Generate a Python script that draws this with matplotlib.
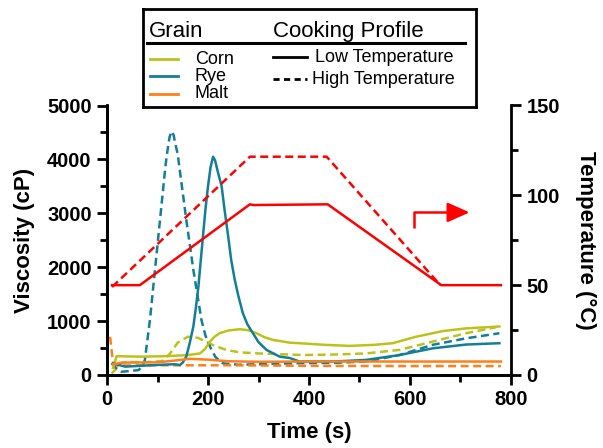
import matplotlib
matplotlib.use("Agg")
import matplotlib.pyplot as plt
from matplotlib.ticker import MultipleLocator

plt.rcParams["font.family"] = ["Liberation Sans", "DejaVu Sans"]

# cooking profiles (temperature, right axis)
low_temp_t = [10, 65, 283, 290, 437, 662, 780]
low_temp = [50, 50, 95, 94.6, 95, 50, 50]
high_temp_t = [10, 283, 435, 660]
high_temp = [49, 121.5, 121.5, 50]

# viscosity, low temperature profile (solid)
corn_low_t = [12, 16, 19, 40, 65, 120, 160, 184, 194, 204, 213, 223, 240, 263, 280, 296, 312,
              329, 362, 381, 430, 480, 530, 566, 612, 665, 711, 777]
corn_low = [130, 250, 350, 345, 340, 350, 370, 400, 480, 620, 710, 775, 825, 850, 830, 775, 700,
            650, 600, 590, 560, 540, 560, 590, 710, 815, 865, 900]
rye_low_t = [12, 36, 95, 134, 144, 150, 157, 164, 171, 176, 181, 185, 190, 195, 200, 205, 210,
             214, 220, 227, 233, 240, 246, 253, 260, 269, 278, 289, 300, 316, 342, 362, 381,
             450, 513, 579, 645, 711, 777]
rye_low = [215, 155, 185, 200, 185, 230, 340, 600, 900, 1250, 1640, 2060, 2570, 3080, 3500,
           3850, 4050, 3980, 3750, 3500, 3050, 2570, 2130, 1765, 1470, 1147, 940, 775, 610,
           465, 340, 315, 250, 250, 280, 370, 495, 565, 590]
malt_low_t = [12, 30, 100, 131, 164, 200, 240, 300, 400, 600, 780]
malt_low = [200, 230, 235, 265, 300, 285, 255, 245, 250, 250, 250]

# viscosity, high temperature profile (dashed)
corn_high_t = [9, 16, 22, 40, 80, 110, 125, 140, 160, 180, 210, 236, 263, 300, 388, 450,
               513, 579, 645, 711, 770]
corn_high = [30, 90, 215, 240, 240, 260, 400, 600, 710, 690, 555, 465, 420, 400, 370, 380,
             400, 465, 620, 775, 885]
rye_high_t = [9, 20, 29, 62, 70, 75, 85, 95, 105, 115, 118, 122, 124, 128, 132, 135, 140, 144,
              157, 171, 187, 195, 204, 215, 230, 260, 381, 450, 513, 579, 645, 711, 777]
rye_high = [220, 110, 60, 90, 150, 280, 1020, 1950, 2880, 3810, 4050, 4300, 4420, 4520, 4450,
            4300, 4100, 3810, 2880, 1950, 1020, 730, 525, 330, 215, 190, 220, 225, 250, 370,
            560, 680, 775]
malt_high_t = [6, 9, 12, 20, 100, 250, 400, 600, 780]
malt_high = [710, 465, 215, 175, 180, 180, 170, 165, 165]

grains = ["Corn", "Rye", "Malt"]
grain_colors = ["#bcc21a", "#127e98", "#ff7f1a"]
red = "#ff0000"


def style_axis(ax):
    ax.tick_params(width=2, length=7, labelsize=14.5, pad=4)
    ax.tick_params(which="minor", width=2, length=5)
    for lab in ax.get_xticklabels() + ax.get_yticklabels():
        lab.set_fontweight("bold")


def draw_legend(fig):
    # legend box drawn in pixel-like units (x 0..333, y 0..99 from top)
    lg = fig.add_axes([143 / 603, 1 - 107 / 448, 333 / 603, 98 / 448], zorder=5)
    lg.set_xlim(0, 333)
    lg.set_ylim(98, 0)
    lg.set_xticks([])
    lg.set_yticks([])
    for s in lg.spines.values():
        s.set_linewidth(2)

    lg.text(6, 28, "Grain", fontsize=16, va="baseline")
    lg.text(130, 28, "Cooking Profile", fontsize=16, va="baseline")
    lg.plot([4, 322], [34, 34], color="black", lw=2.2)

    for i, (g, c) in enumerate(zip(grains, grain_colors)):
        yy = 50 + 17.5 * i
        lg.plot([7, 35], [yy, yy], color=c, lw=2)
        lg.text(52, yy, g, fontsize=13, va="center")

    lg.plot([130, 164], [48, 48], color="black", lw=2)
    lg.text(172, 48, "Low Temperature", fontsize=13, va="center")
    lg.plot([130, 164], [70, 70], color="black", lw=2, dashes=(2.2, 1.6))
    lg.text(169, 70, "High Temperature", fontsize=13, va="center")


def main():
    fig = plt.figure(figsize=(6.03, 4.48), dpi=100)
    ax = fig.add_axes([107 / 603, 1 - 375 / 448, 404 / 603, 269.5 / 448])
    ax2 = ax.twinx()

    lw = 1.8
    dash = (3.2, 1.8)
    low_series = [(corn_low_t, corn_low), (rye_low_t, rye_low), (malt_low_t, malt_low)]
    high_series = [(corn_high_t, corn_high), (rye_high_t, rye_high), (malt_high_t, malt_high)]
    for (t, v), c in zip(high_series, grain_colors):
        ax.plot(t, v, color=c, lw=lw, dashes=dash, solid_joinstyle="round")
    for (t, v), c in zip(low_series, grain_colors):
        ax.plot(t, v, color=c, lw=lw, solid_joinstyle="round")

    ax2.plot(low_temp_t, low_temp, color=red, lw=lw)
    ax2.plot(high_temp_t, high_temp, color=red, lw=lw, dashes=dash)

    # arrow pointing to the temperature axis
    ax2.plot([608, 608, 700], [82, 90.5, 90.5], color=red, lw=lw, solid_capstyle="butt")
    ax2.annotate("", xy=(718, 90.5), xytext=(690, 90.5),
                 arrowprops=dict(arrowstyle="-|>,head_length=0.9,head_width=0.4",
                                 mutation_scale=15, color=red, lw=lw,
                                 shrinkA=0, shrinkB=0))

    ax.set_xlim(0, 800)
    ax.set_ylim(0, 5000)
    ax2.set_ylim(0, 150)
    ax.xaxis.set_major_locator(MultipleLocator(200))
    ax.xaxis.set_minor_locator(MultipleLocator(100))
    ax.yaxis.set_major_locator(MultipleLocator(1000))
    ax.yaxis.set_minor_locator(MultipleLocator(500))
    ax2.yaxis.set_major_locator(MultipleLocator(50))
    ax2.yaxis.set_minor_locator(MultipleLocator(25))

    for a in (ax, ax2):
        a.spines["top"].set_visible(False)
        for s in ("left", "right", "bottom"):
            a.spines[s].set_linewidth(2)
        style_axis(a)
    ax.spines["right"].set_visible(False)

    ax.set_xlabel("Time (s)", fontsize=16, fontweight="bold", labelpad=9)
    ax.set_ylabel("Viscosity (cP)", fontsize=16, fontweight="bold", labelpad=9)
    ax2.set_ylabel("Temperature (°C)", fontsize=16, fontweight="bold",
                   rotation=270, labelpad=26)

    draw_legend(fig)
    fig.savefig("out.png", dpi=100)


if __name__ == "__main__":
    main()
